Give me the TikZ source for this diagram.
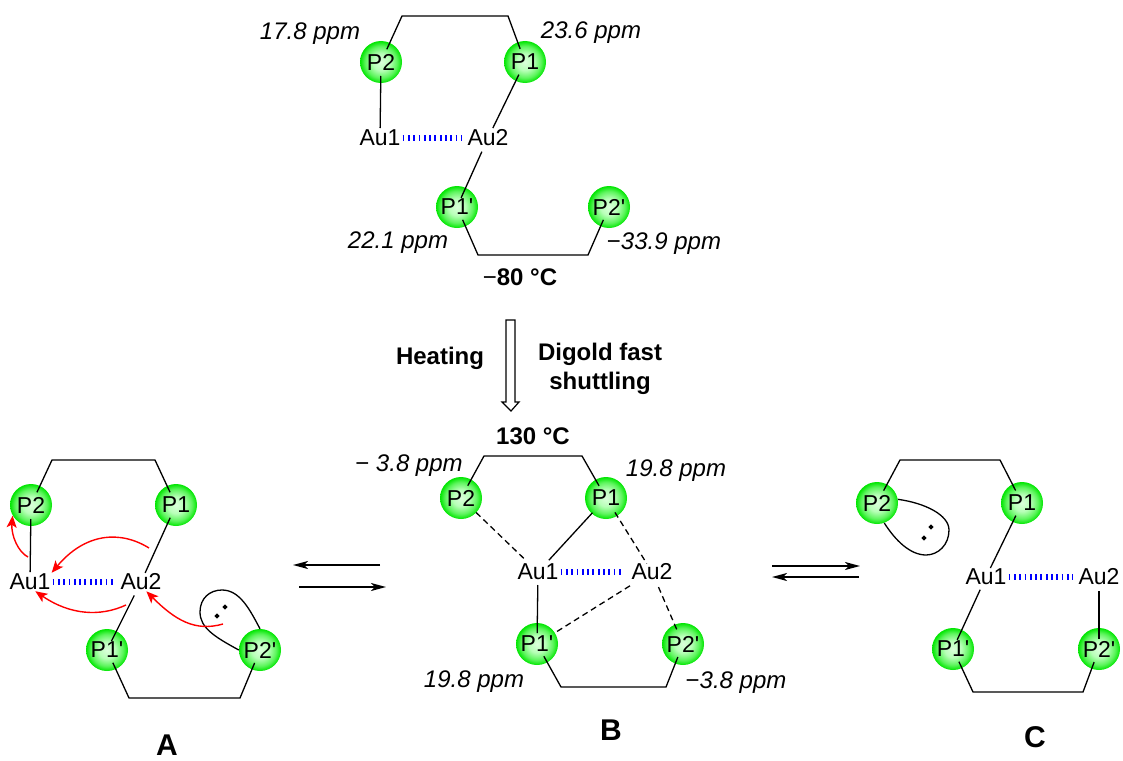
\documentclass[tikz,border=0pt]{standalone}
\usepackage{fontspec}
\setmainfont{Liberation Sans}
\usetikzlibrary{arrows.meta}
\pgfdeclareradialshading{greenball}{\pgfpoint{0bp}{0bp}}{rgb(0bp)=(0.86,1,0.86); rgb(10bp)=(0.72,1,0.72); rgb(19bp)=(0.36,0.96,0.36); rgb(25bp)=(0,0.9,0); rgb(50bp)=(0,0.9,0)}
\tikzset{
    ball/.style={circle,minimum size=42pt,inner sep=0pt,shading=greenball,font=\fontsize{23}{25}\selectfont},
    gold/.style={inner sep=1pt,font=\fontsize{23}{25}\selectfont},
    ppmlabel/.style={font=\fontsize{24}{26}\selectfont\itshape},
    cond/.style={align=center,font=\fontsize{24}{29}\selectfont\bfseries},
    tag/.style={inner sep=0pt,font=\fontsize{30}{32}\selectfont\bfseries},
    bond/.style={line width=1.3pt,shorten <=14pt,shorten >=10pt},
    ring/.style={line width=1.3pt,shorten <=14pt,shorten >=14pt,line join=miter},
    weak/.style={bond,dash pattern=on 6pt off 4pt},
    aurophil/.style={line width=6pt,color=blue,dash pattern=on 1.8pt off 3.5pt,shorten <=1pt,shorten >=5pt},
    shuttle/.style={line width=1.4pt,red,-{Stealth[length=12pt,width=10pt,inset=3pt]}},
    eqarrow/.style={line width=1.6pt,-{Stealth[length=15pt,width=8pt,inset=4pt]}},
    lobe/.style={line width=1.3pt},
    lonepair/.style={inner sep=0pt,minimum size=3.6pt,fill,rotate=45},
}
\begin{document}
\begin{tikzpicture}[x=1pt,y=-1pt]
    \useasboundingbox (0,0) rectangle (1123,760);
    \node[ball] (P2t) at (381,62) {P2};
    \node[ball] (P1t) at (525,62) {P1};
    \node[ball] (P1pt) at (457,207) {P1\textquotesingle};
    \node[ball] (P2pt) at (609,207) {P2\textquotesingle};
    \node[gold] (Au1t) at (380,138) {Au1};
    \node[gold] (Au2t) at (488,138) {Au2};
    \draw[ring] (P2t.center) -- (402,16) -- (508,16) -- (P1t.center);
    \draw[ring] (P1pt.center) -- (478,255) -- (588,255) -- (P2pt.center);
    \draw[bond] (P2t.center) -- (Au1t.center);
    \draw[bond,shorten >=11pt] (P1t.center) -- (Au2t.center);
    \draw[bond,shorten <=15pt] (Au2t.center) -- (P1pt.center);
    \draw[aurophil] (Au1t) -- (Au2t);
    \node[ppmlabel] at (310,34) {17.8 ppm};
    \node[ppmlabel] at (591,33) {23.6 ppm};
    \node[ppmlabel] at (398,243) {22.1 ppm};
    \node[ppmlabel] at (664,244) {\textup{−}33.9 ppm};
    \node[cond] at (520,277) {\textmd{−}80 °C};
    \draw[line width=1.2pt,fill=white] (506,320) -- (515,320) -- (515,402) -- (519,402) -- (511,411) -- (502,402) -- (506,402) -- cycle;
    \node[cond] at (440,358) {Heating};
    \node[cond] at (600,369) {Digold fast\\shuttling};
    \node[cond] at (533,436) {130 °C};
    \node[ball] (P2a) at (31,505) {P2};
    \node[ball] (P1a) at (176,505) {P1};
    \node[ball] (P1pa) at (107,650) {P1\textquotesingle};
    \node[ball] (P2pa) at (260,650) {P2\textquotesingle};
    \node[gold] (Au1a) at (30,582) {Au1};
    \node[gold] (Au2a) at (141,582) {Au2};
    \draw[ring] (P2a.center) -- (52,460) -- (155,460) -- (P1a.center);
    \draw[ring] (P1pa.center) -- (129,698) -- (240,698) -- (P2pa.center);
    \draw[bond] (P2a.center) -- (Au1a.center);
    \draw[bond] (P1a.center) -- (Au2a.center);
    \draw[bond,shorten <=15pt] (Au2a.center) -- (P1pa.center);
    \draw[aurophil] (Au1a) -- (Au2a);
    \draw[lobe] (P2pa.west) .. controls (215,637) and (200,628) .. (200,612) .. controls (200,598) and (210,590) .. (222,590) .. controls (240,590) and (250,610) .. (P2pa.north);
    \node[lonepair] (lp1a) at (217,616) {};
    \node[lonepair] (lp2a) at (225,607) {};
    \coordinate (r1) at (28,557);
    \coordinate (r2) at (149,548);
    \coordinate (r3) at (126,605);
    \coordinate (r4) at (223,624);
    \draw[shuttle] (r1) .. controls (18,552) and (11,535) .. (P2a.210);
    \draw[shuttle] (r2) .. controls (120,530) and (85,533) .. (Au1a.north east);
    \draw[shuttle] (r3) .. controls (100,617) and (70,615) .. (Au1a.-60);
    \draw[shuttle] (r4) .. controls (195,632) and (175,620) .. (Au2a.-60);
    \node[tag] at (167,745) {A};
    \coordinate (e1) at (380,565);
    \coordinate (e2) at (293,565);
    \coordinate (e3) at (299,587);
    \coordinate (e4) at (386,587);
    \draw[eqarrow] (e1) -- (e2);
    \draw[eqarrow] (e3) -- (e4);
    \node[ball] (P2b) at (461,498) {P2};
    \node[ball] (P1b) at (606,498) {P1};
    \node[ball] (P1pb) at (537,644) {P1\textquotesingle};
    \node[ball] (P2pb) at (683,644) {P2\textquotesingle};
    \node[gold] (Au1b) at (538,572) {Au1};
    \node[gold] (Au2b) at (652,572) {Au2};
    \draw[ring] (P2b.center) -- (484,456) -- (582,456) -- (P1b.center);
    \draw[ring] (P1pb.center) -- (561,687) -- (666,687) -- (P2pb.center);
    \draw[bond,shorten <=20pt,shorten >=16pt] (P1b.center) -- (Au1b.center);
    \draw[bond,shorten <=13pt,shorten >=11pt] (Au1b.center) -- (P1pb.center);
    \draw[weak,shorten <=21pt,shorten >=19pt] (P2b.center) -- (Au1b.center);
    \draw[weak,shorten <=17pt,shorten >=10pt] (P1b.center) -- (Au2b.center);
    \draw[weak,shorten <=16pt,shorten >=14pt] (P2pb.center) -- (Au2b.center);
    \draw[weak,shorten <=26pt,shorten >=21pt] (Au2b.center) -- (P1pb.center);
    \draw[aurophil,shorten >=9pt] (Au1b) -- (Au2b);
    \node[ppmlabel] at (409,466) {\textup{−} 3.8 ppm};
    \node[ppmlabel] at (676,471) {19.8 ppm};
    \node[ppmlabel] at (474,682) {19.8 ppm};
    \node[ppmlabel] at (736,683) {\textup{−}3.8 ppm};
    \node[tag] at (611,730) {B};
    \coordinate (e5) at (772,566);
    \coordinate (e6) at (860,566);
    \coordinate (e7) at (859,577);
    \coordinate (e8) at (772,577);
    \draw[eqarrow] (e5) -- (e6);
    \draw[eqarrow] (e7) -- (e8);
    \node[ball] (P2c) at (877,503) {P2};
    \node[ball] (P1c) at (1022,503) {P1};
    \node[ball] (P1pc) at (953,649) {P1\textquotesingle};
    \node[ball] (P2pc) at (1099,649) {P2\textquotesingle};
    \node[gold] (Au1c) at (986,577) {Au1};
    \node[gold] (Au2c) at (1099,577) {Au2};
    \draw[ring] (P2c.center) -- (900,460) -- (1000,460) -- (P1c.center);
    \draw[ring] (P1pc.center) -- (973,692) -- (1083,692) -- (P2pc.center);
    \draw[bond] (P1c.center) -- (Au1c.center);
    \draw[bond] (Au1c.center) -- (P1pc.center);
    \draw[bond] (Au2c.center) -- (P2pc.center);
    \draw[aurophil] (Au1c) -- (Au2c);
    \draw[lobe] (P2c.10) .. controls (925,503) and (949,515) .. (949,530) .. controls (949,545) and (938,555) .. (926,555) .. controls (910,555) and (895,540) .. (P2c.-70);
    \node[lonepair] (lp1c) at (931,527) {};
    \node[lonepair] (lp2c) at (924,538) {};
    \node[tag] at (1035,737) {C};
\end{tikzpicture}
\end{document}
